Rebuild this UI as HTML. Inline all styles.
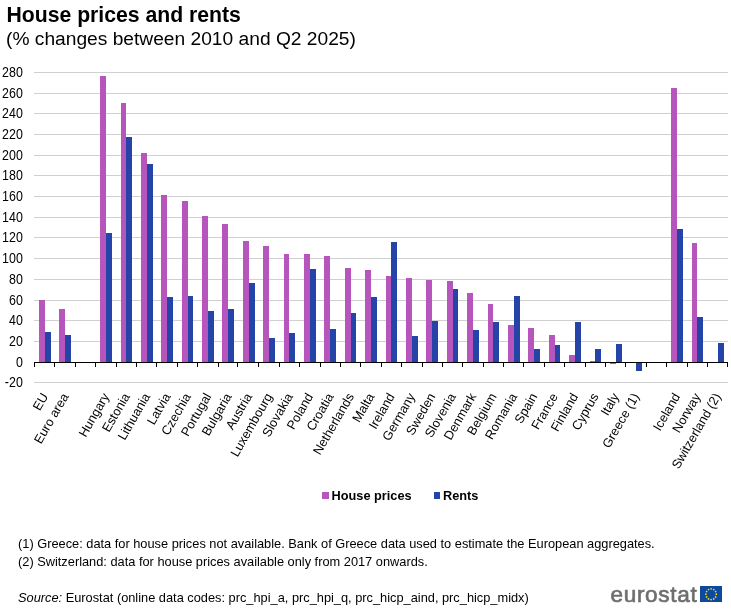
<!DOCTYPE html>
<html><head><meta charset="utf-8">
<style>
html,body{margin:0;padding:0;background:#fff;}
body{width:731px;height:609px;position:relative;overflow:hidden;will-change:transform;font-family:"Liberation Sans",sans-serif;color:#000;}
.t{position:absolute;white-space:nowrap;}
svg{position:absolute;left:0;top:0;}
.yl{font-family:"Liberation Sans",sans-serif;font-size:13.8px;fill:#000;}
.xl{font-family:"Liberation Sans",sans-serif;font-size:12.75px;fill:#000;}
</style></head><body>
<div class="t" style="left:6.5px;top:3px;font-size:21.2px;font-weight:bold;line-height:24px;">House prices and rents</div>
<div class="t" style="left:6px;top:28px;font-size:19.2px;line-height:22px;">(% changes between 2010 and Q2 2025)</div>
<svg width="731" height="609" viewBox="0 0 731 609">
<rect x="34" y="72" width="694" height="1" fill="#D0D0D0"/>
<rect x="34" y="93" width="694" height="1" fill="#D0D0D0"/>
<rect x="34" y="113" width="694" height="1" fill="#D0D0D0"/>
<rect x="34" y="134" width="694" height="1" fill="#D0D0D0"/>
<rect x="34" y="155" width="694" height="1" fill="#D0D0D0"/>
<rect x="34" y="175" width="694" height="1" fill="#D0D0D0"/>
<rect x="34" y="196" width="694" height="1" fill="#D0D0D0"/>
<rect x="34" y="217" width="694" height="1" fill="#D0D0D0"/>
<rect x="34" y="237" width="694" height="1" fill="#D0D0D0"/>
<rect x="34" y="258" width="694" height="1" fill="#D0D0D0"/>
<rect x="34" y="279" width="694" height="1" fill="#D0D0D0"/>
<rect x="34" y="300" width="694" height="1" fill="#D0D0D0"/>
<rect x="34" y="320" width="694" height="1" fill="#D0D0D0"/>
<rect x="34" y="341" width="694" height="1" fill="#D0D0D0"/>
<rect x="34" y="382" width="694" height="1" fill="#D0D0D0"/>
<text transform="translate(22.8,77) scale(0.9,1)" text-anchor="end" class="yl">280</text>
<text transform="translate(22.8,98) scale(0.9,1)" text-anchor="end" class="yl">260</text>
<text transform="translate(22.8,118) scale(0.9,1)" text-anchor="end" class="yl">240</text>
<text transform="translate(22.8,139) scale(0.9,1)" text-anchor="end" class="yl">220</text>
<text transform="translate(22.8,160) scale(0.9,1)" text-anchor="end" class="yl">200</text>
<text transform="translate(22.8,180) scale(0.9,1)" text-anchor="end" class="yl">180</text>
<text transform="translate(22.8,201) scale(0.9,1)" text-anchor="end" class="yl">160</text>
<text transform="translate(22.8,222) scale(0.9,1)" text-anchor="end" class="yl">140</text>
<text transform="translate(22.8,242) scale(0.9,1)" text-anchor="end" class="yl">120</text>
<text transform="translate(22.8,263) scale(0.9,1)" text-anchor="end" class="yl">100</text>
<text transform="translate(22.8,284) scale(0.9,1)" text-anchor="end" class="yl">80</text>
<text transform="translate(22.8,305) scale(0.9,1)" text-anchor="end" class="yl">60</text>
<text transform="translate(22.8,325) scale(0.9,1)" text-anchor="end" class="yl">40</text>
<text transform="translate(22.8,346) scale(0.9,1)" text-anchor="end" class="yl">20</text>
<text transform="translate(22.8,387) scale(0.9,1)" text-anchor="end" class="yl">-20</text>
<text transform="translate(22.8,367) scale(0.9,1)" text-anchor="end" class="yl">0</text>
<rect x="39" y="300" width="6" height="62" fill="#B656BD"/>
<rect x="45" y="332" width="6" height="30" fill="#2644A7"/>
<rect x="59" y="309" width="6" height="53" fill="#B656BD"/>
<rect x="65" y="335" width="6" height="27" fill="#2644A7"/>
<rect x="100" y="76" width="6" height="286" fill="#B656BD"/>
<rect x="106" y="233" width="6" height="129" fill="#2644A7"/>
<rect x="121" y="103" width="5" height="259" fill="#B656BD"/>
<rect x="126" y="137" width="6" height="225" fill="#2644A7"/>
<rect x="141" y="153" width="6" height="209" fill="#B656BD"/>
<rect x="147" y="164" width="6" height="198" fill="#2644A7"/>
<rect x="161" y="195" width="6" height="167" fill="#B656BD"/>
<rect x="167" y="297" width="6" height="65" fill="#2644A7"/>
<rect x="182" y="201" width="6" height="161" fill="#B656BD"/>
<rect x="188" y="296" width="5" height="66" fill="#2644A7"/>
<rect x="202" y="216" width="6" height="146" fill="#B656BD"/>
<rect x="208" y="311" width="6" height="51" fill="#2644A7"/>
<rect x="222" y="224" width="6" height="138" fill="#B656BD"/>
<rect x="228" y="309" width="6" height="53" fill="#2644A7"/>
<rect x="243" y="241" width="6" height="121" fill="#B656BD"/>
<rect x="249" y="283" width="6" height="79" fill="#2644A7"/>
<rect x="263" y="246" width="6" height="116" fill="#B656BD"/>
<rect x="269" y="338" width="6" height="24" fill="#2644A7"/>
<rect x="284" y="254" width="5" height="108" fill="#B656BD"/>
<rect x="289" y="333" width="6" height="29" fill="#2644A7"/>
<rect x="304" y="254" width="6" height="108" fill="#B656BD"/>
<rect x="310" y="269" width="6" height="93" fill="#2644A7"/>
<rect x="324" y="256" width="6" height="106" fill="#B656BD"/>
<rect x="330" y="329" width="6" height="33" fill="#2644A7"/>
<rect x="345" y="268" width="6" height="94" fill="#B656BD"/>
<rect x="351" y="313" width="5" height="49" fill="#2644A7"/>
<rect x="365" y="270" width="6" height="92" fill="#B656BD"/>
<rect x="371" y="297" width="6" height="65" fill="#2644A7"/>
<rect x="386" y="276" width="5" height="86" fill="#B656BD"/>
<rect x="391" y="242" width="6" height="120" fill="#2644A7"/>
<rect x="406" y="278" width="6" height="84" fill="#B656BD"/>
<rect x="412" y="336" width="6" height="26" fill="#2644A7"/>
<rect x="426" y="280" width="6" height="82" fill="#B656BD"/>
<rect x="432" y="321" width="6" height="41" fill="#2644A7"/>
<rect x="447" y="281" width="6" height="81" fill="#B656BD"/>
<rect x="453" y="289" width="5" height="73" fill="#2644A7"/>
<rect x="467" y="293" width="6" height="69" fill="#B656BD"/>
<rect x="473" y="330" width="6" height="32" fill="#2644A7"/>
<rect x="488" y="304" width="5" height="58" fill="#B656BD"/>
<rect x="493" y="322" width="6" height="40" fill="#2644A7"/>
<rect x="508" y="325" width="6" height="37" fill="#B656BD"/>
<rect x="514" y="296" width="6" height="66" fill="#2644A7"/>
<rect x="528" y="328" width="6" height="34" fill="#B656BD"/>
<rect x="534" y="349" width="6" height="13" fill="#2644A7"/>
<rect x="549" y="335" width="6" height="27" fill="#B656BD"/>
<rect x="555" y="345" width="5" height="17" fill="#2644A7"/>
<rect x="569" y="355" width="6" height="7" fill="#B656BD"/>
<rect x="575" y="322" width="6" height="40" fill="#2644A7"/>
<rect x="590" y="361" width="5" height="1" fill="#B656BD"/>
<rect x="595" y="349" width="6" height="13" fill="#2644A7"/>
<rect x="610" y="363" width="6" height="1" fill="#B656BD"/>
<rect x="616" y="344" width="6" height="18" fill="#2644A7"/>
<rect x="636" y="363" width="6" height="8" fill="#2644A7"/>
<rect x="671" y="88" width="6" height="274" fill="#B656BD"/>
<rect x="677" y="229" width="6" height="133" fill="#2644A7"/>
<rect x="692" y="243" width="5" height="119" fill="#B656BD"/>
<rect x="697" y="317" width="6" height="45" fill="#2644A7"/>
<rect x="718" y="343" width="6" height="19" fill="#2644A7"/>
<rect x="34" y="362" width="694" height="1" fill="#000"/>
<rect x="34" y="362" width="1" height="5" fill="#000"/>
<rect x="54" y="362" width="1" height="5" fill="#000"/>
<rect x="75" y="362" width="1" height="5" fill="#000"/>
<rect x="95" y="362" width="1" height="5" fill="#000"/>
<rect x="116" y="362" width="1" height="5" fill="#000"/>
<rect x="136" y="362" width="1" height="5" fill="#000"/>
<rect x="156" y="362" width="1" height="5" fill="#000"/>
<rect x="177" y="362" width="1" height="5" fill="#000"/>
<rect x="197" y="362" width="1" height="5" fill="#000"/>
<rect x="218" y="362" width="1" height="5" fill="#000"/>
<rect x="237" y="362" width="1" height="5" fill="#000"/>
<rect x="258" y="362" width="1" height="5" fill="#000"/>
<rect x="279" y="362" width="1" height="5" fill="#000"/>
<rect x="299" y="362" width="1" height="5" fill="#000"/>
<rect x="320" y="362" width="1" height="5" fill="#000"/>
<rect x="340" y="362" width="1" height="5" fill="#000"/>
<rect x="360" y="362" width="1" height="5" fill="#000"/>
<rect x="381" y="362" width="1" height="5" fill="#000"/>
<rect x="401" y="362" width="1" height="5" fill="#000"/>
<rect x="422" y="362" width="1" height="5" fill="#000"/>
<rect x="442" y="362" width="1" height="5" fill="#000"/>
<rect x="462" y="362" width="1" height="5" fill="#000"/>
<rect x="483" y="362" width="1" height="5" fill="#000"/>
<rect x="503" y="362" width="1" height="5" fill="#000"/>
<rect x="523" y="362" width="1" height="5" fill="#000"/>
<rect x="544" y="362" width="1" height="5" fill="#000"/>
<rect x="564" y="362" width="1" height="5" fill="#000"/>
<rect x="585" y="362" width="1" height="5" fill="#000"/>
<rect x="605" y="362" width="1" height="5" fill="#000"/>
<rect x="625" y="362" width="1" height="5" fill="#000"/>
<rect x="646" y="362" width="1" height="5" fill="#000"/>
<rect x="666" y="362" width="1" height="5" fill="#000"/>
<rect x="687" y="362" width="1" height="5" fill="#000"/>
<rect x="707" y="362" width="1" height="5" fill="#000"/>
<rect x="727" y="362" width="1" height="5" fill="#000"/>
<text transform="translate(44.79,394.0) rotate(-60)" text-anchor="end" dy="0.35em" class="xl">EU</text>
<text transform="translate(65.17,394.0) rotate(-60)" text-anchor="end" dy="0.35em" class="xl">Euro area</text>
<text transform="translate(105.94,394.0) rotate(-60)" text-anchor="end" dy="0.35em" class="xl">Hungary</text>
<text transform="translate(126.32,394.0) rotate(-60)" text-anchor="end" dy="0.35em" class="xl">Estonia</text>
<text transform="translate(146.70,394.0) rotate(-60)" text-anchor="end" dy="0.35em" class="xl">Lithuania</text>
<text transform="translate(167.08,394.0) rotate(-60)" text-anchor="end" dy="0.35em" class="xl">Latvia</text>
<text transform="translate(187.47,394.0) rotate(-60)" text-anchor="end" dy="0.35em" class="xl">Czechia</text>
<text transform="translate(207.85,394.0) rotate(-60)" text-anchor="end" dy="0.35em" class="xl">Portugal</text>
<text transform="translate(228.23,394.0) rotate(-60)" text-anchor="end" dy="0.35em" class="xl">Bulgaria</text>
<text transform="translate(248.61,394.0) rotate(-60)" text-anchor="end" dy="0.35em" class="xl">Austria</text>
<text transform="translate(268.99,394.0) rotate(-60)" text-anchor="end" dy="0.35em" class="xl">Luxembourg</text>
<text transform="translate(289.38,394.0) rotate(-60)" text-anchor="end" dy="0.35em" class="xl">Slovakia</text>
<text transform="translate(309.76,394.0) rotate(-60)" text-anchor="end" dy="0.35em" class="xl">Poland</text>
<text transform="translate(330.14,394.0) rotate(-60)" text-anchor="end" dy="0.35em" class="xl">Croatia</text>
<text transform="translate(350.52,394.0) rotate(-60)" text-anchor="end" dy="0.35em" class="xl">Netherlands</text>
<text transform="translate(370.90,394.0) rotate(-60)" text-anchor="end" dy="0.35em" class="xl">Malta</text>
<text transform="translate(391.29,394.0) rotate(-60)" text-anchor="end" dy="0.35em" class="xl">Ireland</text>
<text transform="translate(411.67,394.0) rotate(-60)" text-anchor="end" dy="0.35em" class="xl">Germany</text>
<text transform="translate(432.05,394.0) rotate(-60)" text-anchor="end" dy="0.35em" class="xl">Sweden</text>
<text transform="translate(452.43,394.0) rotate(-60)" text-anchor="end" dy="0.35em" class="xl">Slovenia</text>
<text transform="translate(472.81,394.0) rotate(-60)" text-anchor="end" dy="0.35em" class="xl">Denmark</text>
<text transform="translate(493.20,394.0) rotate(-60)" text-anchor="end" dy="0.35em" class="xl">Belgium</text>
<text transform="translate(513.58,394.0) rotate(-60)" text-anchor="end" dy="0.35em" class="xl">Romania</text>
<text transform="translate(533.96,394.0) rotate(-60)" text-anchor="end" dy="0.35em" class="xl">Spain</text>
<text transform="translate(554.34,394.0) rotate(-60)" text-anchor="end" dy="0.35em" class="xl">France</text>
<text transform="translate(574.72,394.0) rotate(-60)" text-anchor="end" dy="0.35em" class="xl">Finland</text>
<text transform="translate(595.11,394.0) rotate(-60)" text-anchor="end" dy="0.35em" class="xl">Cyprus</text>
<text transform="translate(615.49,394.0) rotate(-60)" text-anchor="end" dy="0.35em" class="xl">Italy</text>
<text transform="translate(635.87,394.0) rotate(-60)" text-anchor="end" dy="0.35em" class="xl">Greece (1)</text>
<text transform="translate(676.63,394.0) rotate(-60)" text-anchor="end" dy="0.35em" class="xl">Iceland</text>
<text transform="translate(697.02,394.0) rotate(-60)" text-anchor="end" dy="0.35em" class="xl">Norway</text>
<text transform="translate(717.40,394.0) rotate(-60)" text-anchor="end" dy="0.35em" class="xl">Switzerland (2)</text>
</svg>
<div class="t" style="left:322px;top:492px;width:7px;height:7px;background:#B656BD;"></div>
<div class="t" style="left:331.5px;top:487.7px;font-size:12.75px;font-weight:bold;line-height:15px;">House prices</div>
<div class="t" style="left:434px;top:492px;width:6px;height:7px;background:#2644A7;"></div>
<div class="t" style="left:443px;top:487.7px;font-size:12.75px;font-weight:bold;line-height:15px;">Rents</div>
<div class="t" style="left:18px;top:535px;font-size:12.8px;line-height:18px;">(1) Greece: data for house prices not available. Bank of Greece data used to estimate the European aggregates.<br>(2) Switzerland: data for house prices available only from 2017 onwards.</div>
<div class="t" style="left:18px;top:589.7px;font-size:12.8px;line-height:15px;"><i>Source:</i> Eurostat (online data codes: prc_hpi_a, prc_hpi_q, prc_hicp_aind, prc_hicp_midx)</div>
<div class="t" style="left:610.5px;top:580.5px;font-size:22.6px;line-height:28px;color:#6E6E6E;-webkit-text-stroke:0.65px #6E6E6E;letter-spacing:0.65px;">eurostat</div>
<svg style="left:700px;top:586px;position:absolute" width="22" height="16" viewBox="0 0 22 16">
<rect width="22" height="16" fill="#0D4A9E"/>
<circle cx="16.30" cy="8.20" r="0.85" fill="#F2DF1E"/>
<circle cx="15.60" cy="10.90" r="0.85" fill="#F2DF1E"/>
<circle cx="13.70" cy="12.88" r="0.85" fill="#F2DF1E"/>
<circle cx="11.10" cy="13.60" r="0.85" fill="#F2DF1E"/>
<circle cx="8.50" cy="12.88" r="0.85" fill="#F2DF1E"/>
<circle cx="6.60" cy="10.90" r="0.85" fill="#F2DF1E"/>
<circle cx="5.90" cy="8.20" r="0.85" fill="#F2DF1E"/>
<circle cx="6.60" cy="5.50" r="0.85" fill="#F2DF1E"/>
<circle cx="8.50" cy="3.52" r="0.85" fill="#F2DF1E"/>
<circle cx="11.10" cy="2.80" r="0.85" fill="#F2DF1E"/>
<circle cx="13.70" cy="3.52" r="0.85" fill="#F2DF1E"/>
<circle cx="15.60" cy="5.50" r="0.85" fill="#F2DF1E"/>
</svg>
</body></html>
